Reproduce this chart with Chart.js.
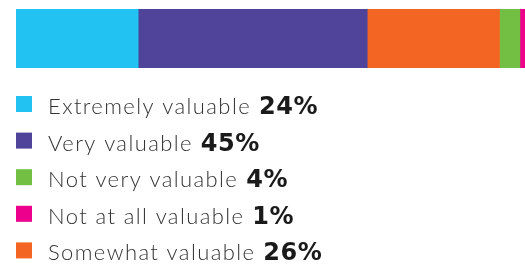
<!DOCTYPE html>
<html>
<head>
<meta charset="utf-8">
<script src="https://cdn.jsdelivr.net/npm/chart.js@4.4.0/dist/chart.umd.min.js"></script>
<style>
  html, body { margin: 0; padding: 0; background: #fff; }
  #wrap { width: 525px; height: 265px; }
</style>
</head>
<body>
<div id="wrap"><canvas id="valueChart" width="525" height="265"></canvas></div>
<script>
// data
const categories = ['Extremely valuable', 'Very valuable', 'Somewhat valuable', 'Not very valuable', 'Not at all valuable'];
const shares = [24, 45, 26, 4, 1];
const colors = ['#22c3f3', '#50449a', '#f26522', '#72bf44', '#ec008c'];
// legend lists them in a different order than the bar
const legendOrder = ['Extremely valuable', 'Very valuable', 'Not very valuable', 'Not at all valuable', 'Somewhat valuable'];

const legendPlugin = {
    id: 'sideLegend',
    afterDraw(chart) {
        const ctx = chart.ctx;
        const sets = chart.data.datasets;
        ctx.save();
        legendOrder.forEach((name, i) => {
            const ds = sets.find(d => d.label === name);
            const base = 114 + i * 36.6;
            ctx.fillStyle = ds.backgroundColor;
            ctx.fillRect(16, base - 18, 16, 16);

            ctx.textBaseline = 'alphabetic';
            ctx.textAlign = 'left';
            ctx.letterSpacing = '1.4px';
            ctx.font = '300 22px Lato';
            ctx.fillStyle = '#333';
            ctx.fillText(name, 48, base);
            const w = ctx.measureText(name).width;

            ctx.letterSpacing = '0.5px';
            ctx.font = 'bold 24px "DejaVu Sans"';
            ctx.fillStyle = '#1a1a1a';
            ctx.fillText(ds.data[0] + '%', 48 + w + 8, base);
        });
        ctx.restore();
    }
};

new Chart(document.getElementById('valueChart'), {
    type: 'bar',
    data: {
        labels: [''],
        datasets: categories.map((c, i) => ({
            label: c,
            data: [shares[i]],
            backgroundColor: colors[i],
            borderWidth: 0,
            barPercentage: 1,
            categoryPercentage: 1
        }))
    },
    options: {
        indexAxis: 'y',
        responsive: false,
        animation: false,
        layout: { padding: { left: 16, right: 0, top: 9, bottom: 197 } },
        plugins: { legend: { display: false }, tooltip: { enabled: false } },
        scales: {
            x: { stacked: true, min: 0, max: 100, display: false },
            y: { stacked: true, display: false }
        }
    },
    plugins: [legendPlugin]
});
</script>
</body>
</html>
